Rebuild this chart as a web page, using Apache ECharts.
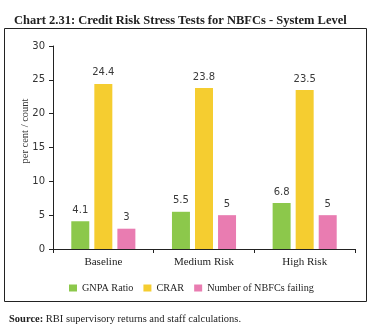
<!DOCTYPE html>
<html><head><meta charset="utf-8">
<script src="https://cdn.jsdelivr.net/npm/echarts@6/dist/echarts.min.js"></script>
<style>html,body{margin:0;padding:0;background:#fff}#c{width:370px;height:326px}</style>
</head><body><div id="c"></div>
<script>
const categories = ['Baseline', 'Medium Risk', 'High Risk'];
const gnpa = [4.1, 5.5, 6.8];
const crar = [24.4, 23.8, 23.5];
const failing = [3, 5, 5];
const seriesNames = ['GNPA Ratio', 'CRAR', 'Number of NBFCs failing'];
const yTicks = [0, 5, 10, 15, 20, 25, 30];

const chart = echarts.init(document.getElementById('c'), null, {renderer: 'canvas'});
const labelStyle = {show: true, position: 'top', distance: 6, color: '#3a3a3a', fontSize: 10, fontFamily: 'DejaVu Sans'};
function bar(name, data, color) {
  return {name, type: 'bar', data, barWidth: 18, barGap: '28%', itemStyle: {color}, label: labelStyle};
}
chart.setOption({
  animation: false,
  title: [{
    text: 'Chart 2.31: Credit Risk Stress Tests for NBFCs - System Level',
    left: 9, top: 9,
    textStyle: {fontFamily: 'Liberation Serif', fontWeight: 'bold', fontSize: 12.5, color: '#222'}
  }, {
    text: '{b|Source:} RBI supervisory returns and staff calculations.',
    left: 4, top: 309,
    textStyle: {fontFamily: 'Liberation Serif', fontWeight: 'normal', fontSize: 10.5, color: '#222',
      rich: {b: {fontFamily: 'Liberation Serif', fontWeight: 'bold', fontSize: 10.5, color: '#222'}}}
  }],
  graphic: [{type: 'rect', shape: {x: 4.5, y: 28.5, width: 362, height: 273}, style: {fill: 'none', stroke: '#222', lineWidth: 1}}],
  grid: {left: 53, right: 15, top: 46, bottom: 77},
  legend: {
    data: seriesNames, top: 278, left: 64, itemWidth: 8, itemHeight: 7, itemGap: 10,
    textStyle: {fontFamily: 'Liberation Serif', fontSize: 10.2, color: '#222'}, icon: 'rect'
  },
  xAxis: {
    type: 'category', data: categories,
    axisLine: {lineStyle: {color: '#222'}},
    axisTick: {show: true, lineStyle: {color: '#222'}, length: 4},
    axisLabel: {fontFamily: 'Liberation Serif', fontSize: 11, color: '#222', margin: 8}
  },
  yAxis: {
    type: 'value', min: yTicks[0], max: yTicks[yTicks.length - 1], interval: 5,
    name: 'per cent / count', nameLocation: 'middle', nameGap: 22, nameMoveOverlap: false,
    nameTextStyle: {fontFamily: 'Liberation Serif', fontSize: 10.5, color: '#333', padding: [0, 0, 0, 33]},
    axisLine: {show: true, lineStyle: {color: '#222'}},
    axisTick: {show: true, length: 4, lineStyle: {color: '#222'}},
    splitLine: {show: false},
    axisLabel: {fontFamily: 'DejaVu Sans', fontSize: 10, color: '#333', margin: 8}
  },
  series: [
    bar(seriesNames[0], gnpa, '#8cc84b'),
    bar(seriesNames[1], crar, '#f5cd30'),
    bar(seriesNames[2], failing, '#e97cb1')
  ]
});
</script></body></html>
